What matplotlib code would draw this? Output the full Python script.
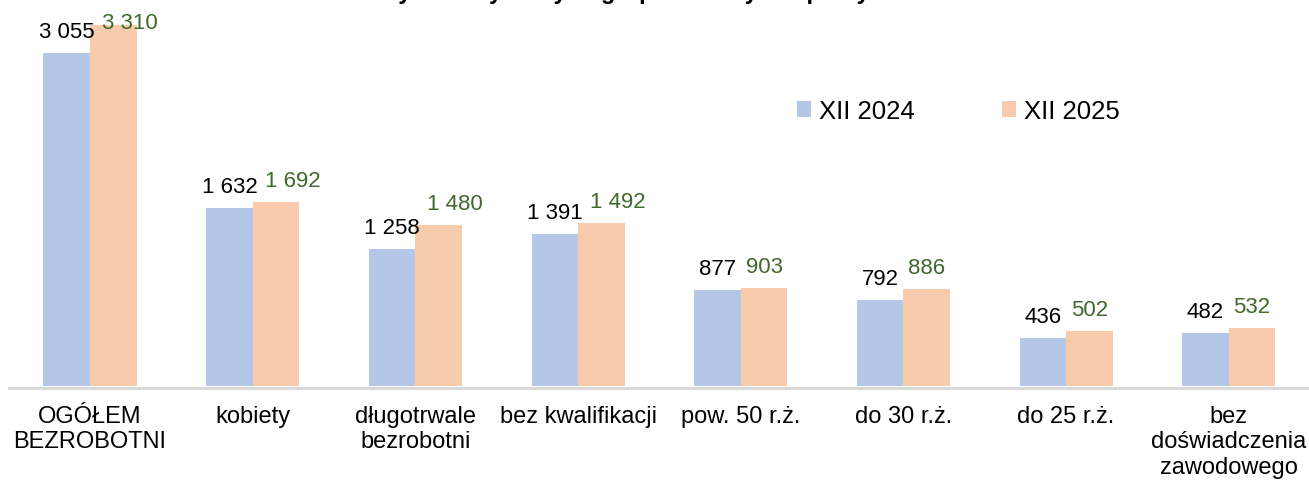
import numpy as np
import matplotlib
matplotlib.use("Agg")
import matplotlib.pyplot as plt

plt.rcParams["font.family"] = ["Liberation Sans", "DejaVu Sans"]

# Dane z wykresu
kategorie = [
    "OGÓŁEM\nBEZROBOTNI",
    "kobiety",
    "długotrwale\nbezrobotni",
    "bez kwalifikacji",
    "pow. 50 r.ż.",
    "do 30 r.ż.",
    "do 25 r.ż.",
    "bez\ndoświadczenia\nzawodowego",
]
xii_2024 = [3055, 1632, 1258, 1391, 877, 792, 436, 482]
xii_2025 = [3310, 1692, 1480, 1492, 903, 886, 502, 532]
serie = ["XII 2024", "XII 2025"]
tytul = "Liczba bezrobotnych w wybranych grupach na rynku pracy"

kolor_2024 = "#B4C7E7"
kolor_2025 = "#F8CBAD"
kolor_etykiet_2025 = "#41682C"


def fmt(v):
    # separator tysięcy jako spacja
    return f"{v:,}".replace(",", " ")


W, H = 1309, 481
fig = plt.figure(figsize=(W / 100, H / 100), dpi=100)
ax = fig.add_axes([8.65 / W, 94 / H, 1301.5 / W, 387 / H])

x = np.arange(len(kategorie))
szer = 0.286
ax.bar(x - szer / 2, xii_2024, szer, color=kolor_2024, label=serie[0], zorder=2)
ax.bar(x + szer / 2, xii_2025, szer, color=kolor_2025, label=serie[1], zorder=2)

ymax = 3550
ax.set_xlim(-0.5, len(kategorie) - 0.5)
ax.set_ylim(0, ymax)

# etykiety danych (linia bazowa 16 px nad słupkiem, przycięte u góry)
px_na_jedn = 387 / ymax
odstep = 16 / px_na_jedn
limit = (387 - 29) / px_na_jedn
for i, (a, b) in enumerate(zip(xii_2024, xii_2025)):
    ax.annotate(fmt(a), (x[i] - szer / 2, min(a + odstep, limit)),
                xytext=(0, 0), textcoords="offset points",
                ha="center", va="baseline", fontsize=16, color="black")
    dx = 12 if b >= 1000 else 0
    ax.annotate(fmt(b), (x[i] + szer / 2, min(b + odstep, limit)),
                xytext=(dx, 0), textcoords="offset points",
                ha="center", va="baseline", fontsize=16,
                color=kolor_etykiet_2025)

ax.set_xticks(x)
ax.tick_params(axis="x", length=0, pad=12, labelsize=17)
ax.set_xticklabels(kategorie)
for t in ax.get_xticklabels():
    t.set_linespacing(1.2)
ax.set_yticks([])
for s in ["top", "left", "right"]:
    ax.spines[s].set_visible(False)
ax.spines["bottom"].set_color("#D9D9D9")
ax.spines["bottom"].set_linewidth(2.2)
ax.spines["bottom"].set_position(("outward", 1.5))

fig.legend(loc="center left", bbox_to_anchor=(797 / W, 1 - 112 / H),
           ncol=2, frameon=False, fontsize=18.5, handlelength=0.55,
           handleheight=0.55, handletextpad=0.3, columnspacing=3.4,
           borderpad=0, borderaxespad=0)

# tytuł wychodzi poza górną krawędź, widoczne są tylko dolne części liter
fig.text(0.41, 1 + 1 / H, tytul, ha="center", va="baseline",
         fontsize=17, fontweight="bold")

fig.savefig("out.png", dpi=100)
